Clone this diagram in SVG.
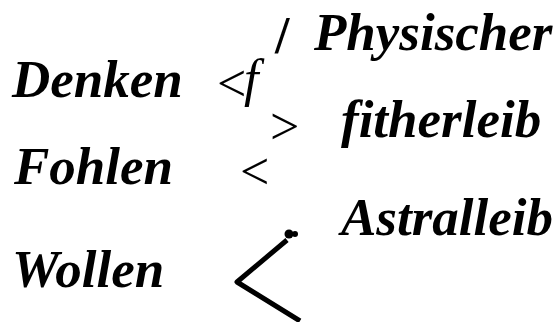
<svg xmlns="http://www.w3.org/2000/svg" width="556" height="322" viewBox="0 0 556 322">
<style>
.lbl{font-family:"Liberation Serif","Times New Roman",serif;font-weight:bold;font-style:italic;font-size:53px;fill:#000}
.sym{font-family:"Liberation Serif","Times New Roman",serif;font-size:52px;fill:#000}
</style>
<rect width="556" height="322" fill="#fff"/>
<g id="denken"><text class="lbl" x="12" y="97">Denken</text></g>
<g id="fohlen"><text class="lbl" x="14" y="184">Fohlen</text></g>
<g id="wollen"><text class="lbl" x="12" y="287">Wollen</text></g>
<g id="physischer"><text class="lbl" x="314" y="50">Physischer</text></g>
<g id="fitherleib"><text class="lbl" x="341" y="137">fitherleib</text></g>
<g id="astralleib"><text class="lbl" x="341" y="235">Astralleib</text></g>
<g id="connectors">
<text class="sym" x="217" y="101" font-size="48">&lt;</text>
<text class="sym" x="244" y="96" font-size="58" font-style="italic">f</text>
<text class="sym" x="275" y="53" font-size="54" font-weight="bold">/</text>
<text class="sym" x="270" y="144" font-size="54">&gt;</text>
<text class="sym" x="240" y="189" font-size="54">&lt;</text>
<path d="M287 240 L237 282 L300 321" fill="none" stroke="#000" stroke-width="5" stroke-linejoin="round"/>
<circle cx="289" cy="234" r="4.5" fill="#000"/>
<circle cx="295" cy="234" r="3" fill="#000"/>
</g>
</svg>
